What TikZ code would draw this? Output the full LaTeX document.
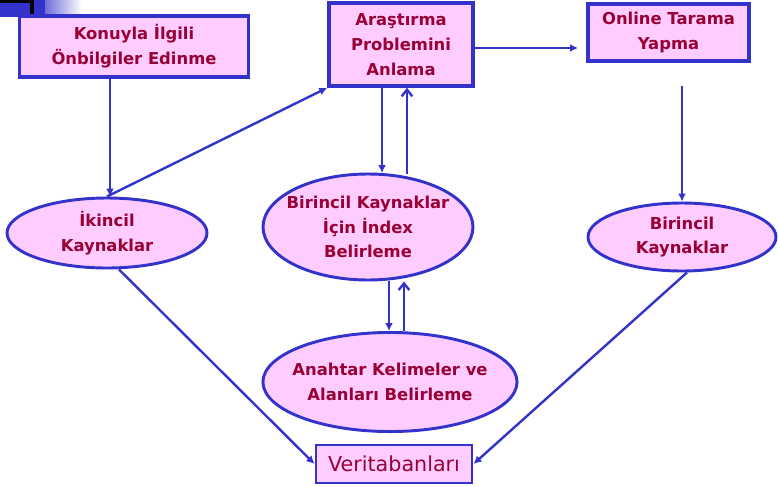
\documentclass[tikz,border=0pt]{standalone}
\usepackage{fontspec}
\setmainfont{DejaVu Sans}
\usetikzlibrary{shapes.geometric, arrows.meta}

\definecolor{slideblue}{RGB}{51,51,204}
\definecolor{slidepink}{RGB}{255,204,255}
\definecolor{slidered}{RGB}{153,0,51}

\begin{document}
\begin{tikzpicture}[x=0.75pt, y=-0.75pt,
                pinksquarednode/.style={rectangle, draw=slideblue, fill=slidepink, line width=2.6pt, align=center, inner sep=0pt, text=slidered, font=\bfseries\fontsize{12.3}{18.6}\selectfont},
                pinkellipsenode/.style={ellipse, draw=slideblue, fill=slidepink, line width=2.2pt, align=center, inner sep=0pt, text=slidered, font=\bfseries\fontsize{12.3}{18.6}\selectfont},
                bluearrow/.style={-{Latex[length=6pt, width=6pt]}, draw=slideblue, line width=1.8pt},
                bluebackarrow/.style={-{Straight Barb[length=5pt, width=8pt]}, draw=slideblue, line width=1.8pt},
                ]
                \useasboundingbox (0,0) rectangle (778,486);

                % bullet corner of the slide
                \shade[left color=slideblue, right color=white] (30,0) rectangle (82,17);
                \fill[slideblue] (0,0) rectangle (45,17);
                \draw[black, line width=2.4pt] (0,1) -- (32,1) -- (32,17);

                \node[pinksquarednode, minimum width=171.8pt, minimum height=45.8pt] (onbilgi) at (134,46.5) {Konuyla İlgili\\Önbilgiler Edinme};
                \node[pinksquarednode, minimum width=108pt, minimum height=62.3pt] (problem) at (401,44.5) {Araştırma\\Problemini\\Anlama};
                \node[pinksquarednode, minimum width=120.8pt, minimum height=42.8pt] (online) at (668.5,32.5) {Online Tarama\\Yapma};

                \node[pinkellipsenode, minimum width=150pt, minimum height=52.5pt] (ikincil) at (107,233) {İkincil\\Kaynaklar};
                \node[pinkellipsenode, inner xsep=-5.3pt, minimum width=156pt, minimum height=79.5pt] (index) at (368,227) {Birincil Kaynaklar\\İçin İndex\\Belirleme};
                \node[pinkellipsenode, minimum width=141pt, minimum height=51pt] (birincil) at (682,237) {Birincil\\Kaynaklar};
                \node[pinkellipsenode, inner xsep=-5.8pt, minimum width=190.5pt, minimum height=74.3pt] (anahtar) at (390,382) {Anahtar Kelimeler ve\\Alanları Belirleme};

                \node[pinksquarednode, line width=2.2pt, minimum width=117pt, minimum height=28.5pt, font=\fontsize{15.5}{18}\selectfont] (veri) at (394,464) {Veritabanları};

                \coordinate (onlinealt) at (682,86);
                \coordinate (onlinegiris) at (578,48);

                \draw[bluearrow] (problem.east |- onlinegiris) -- (onlinegiris);
                \draw[bluearrow] (onbilgi.south -| 110,0) -- (ikincil.north -| 110,0);
                \draw[bluearrow] (ikincil.north) -- (problem.south west);
                \draw[bluearrow] (problem.south -| 382,0) -- (382,173);
                \draw[bluebackarrow] (407,174) -- (problem.south -| 407,0);
                \draw[bluearrow] (onlinealt) -- (birincil.north);
                \draw[bluearrow] (index.south -| 389,0) -- (anahtar.north -| 389,0);
                \draw[bluebackarrow] (anahtar.north -| 404,0) -- (index.south -| 404,0);
                \draw[bluearrow] (ikincil.south) ++(12,0) -- (veri.west);
                \draw[bluearrow] (birincil.south) ++(5,0) -- (veri.east);
            \end{tikzpicture}
\end{document}
